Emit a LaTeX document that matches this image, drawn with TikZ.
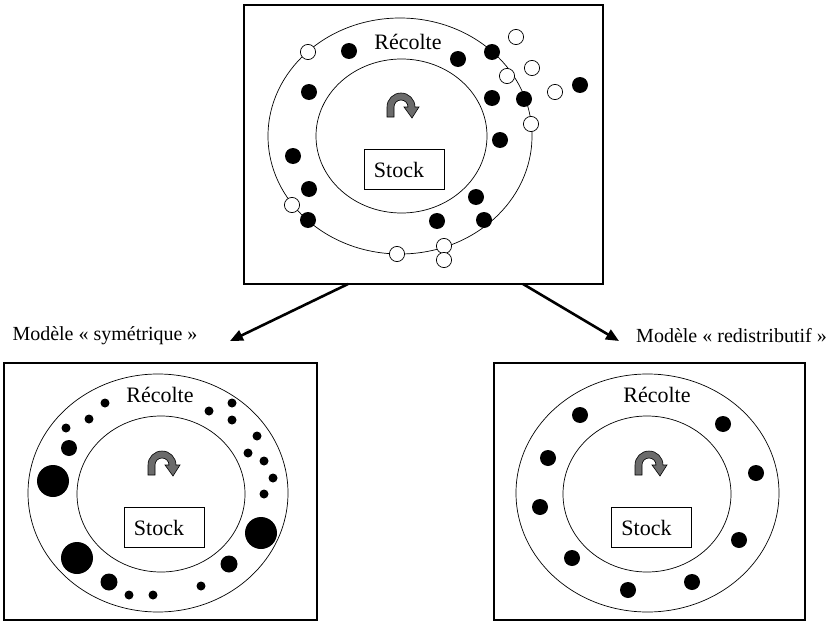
\documentclass[tikz,border=0pt]{standalone}
\usepackage{fontspec}
\setmainfont{Liberation Serif}
\usetikzlibrary{arrows.meta}
\tikzset{
  panel/.style={draw, line width=1.1pt, inner sep=0pt, minimum width=311pt, minimum height=257pt},
  ring/.style={draw, line width=0.7pt},
  stockbox/.style={draw, line width=0.7pt, inner sep=0pt, minimum width=80pt, minimum height=40pt},
  lbl/.style={inner sep=0pt, font=\fontsize{22}{24}\selectfont},
  captext/.style={inner sep=0pt, font=\fontsize{20}{22}\selectfont},
  conn/.style={line width=2.6pt, -{Triangle[length=13pt,width=11pt]}},
  fulldot/.style={fill=black},
  opendot/.style={draw, fill=white, line width=0.7pt},
  turn/.style={fill=black!58, draw=black, line width=0.6pt}
}
\newcommand{\turnarrow}[2]{%
  \begin{scope}[shift={(#1,#2)}, yscale=-1]
    \path[turn] (-16,-12) -- (-16,-2) arc[start angle=180, end angle=0, radius=14]
      -- (16,-2) -- (9,-13) -- (1,-2) -- (5,-2)
      arc[start angle=0, end angle=180, radius=7] -- (-9,-12) -- cycle;
  \end{scope}}
\begin{document}
\begin{tikzpicture}[x=1pt, y=-1pt]
\useasboundingbox (0,0) rectangle (831,621);
% panels
\node[panel, minimum width=359pt, minimum height=279pt] (top) at (423.5,144.5) {};
\node[panel, minimum width=313pt, minimum height=257pt] (left) at (160.5,491.5) {};
\node[panel, minimum width=311pt, minimum height=257pt] (right) at (649.5,491.5) {};
% top panel
\draw[ring] (400,136) circle[x radius=132, y radius=118];
\draw[ring] (401.5,136) circle[x radius=85.5, y radius=77];
\node[lbl] (r1) at (408,42) {Récolte};
\node[stockbox] (s1) at (404,169) {};
\node[lbl] (t1) at (399,170) {Stock};
\turnarrow{403}{105}
\foreach \x/\y in {349/51, 458/59, 492/52, 309/92, 492/98, 524/99, 500/140, 580/85,
  293/156, 309/189, 308/220, 476/197, 437/221, 484/220}
  \path[fulldot] (\x,\y) circle[radius=8];
\foreach \x/\y in {308/52, 516/37, 532/68, 507/76, 555/92, 531/124, 292/205, 397/254,
  444/246, 444/260}
  \path[opendot] (\x,\y) circle[radius=7.6];
% left panel
\draw[ring] (158,493) circle[x radius=130, y radius=119];
\draw[ring] (161,494) circle[x radius=84, y radius=78];
\node[lbl] (r2) at (160,395) {Récolte};
\node[stockbox] (s2) at (164,527) {};
\node[lbl] (t2) at (159,528) {Stock};
\turnarrow{164}{463}
\foreach \x/\y/\r in {105/403/4.5, 89/419/4.5, 66/428/4.5, 69/448/8, 53/481/16,
  77/558/16, 109/582/8.5, 129/595/4.5, 153/595/4.5, 201/586/4.5, 229/564/8.5,
  261/533/16, 264/494/4.5, 273/478/4.5, 264/461/4.5, 248/453/4.5, 257/436/4.5,
  232/420/4.5, 232/403/4.5, 209/411/4.5}
  \path[fulldot] (\x,\y) circle[radius=\r];
% right panel
\draw[ring] (647.5,493) circle[x radius=131.5, y radius=119];
\draw[ring] (647,494) circle[x radius=84, y radius=78];
\node[lbl] (r3) at (657,395) {Récolte};
\node[stockbox] (s3) at (651.5,527) {};
\node[lbl] (t3) at (646.5,528) {Stock};
\turnarrow{651}{463}
\foreach \x/\y in {580/415, 548/458, 540/507, 572/558, 628/590, 692/582, 739/540,
  756/473, 723/424}
  \path[fulldot] (\x,\y) circle[radius=8];
% captions and connectors
\node[captext] (c1) at (105,336) {Modèle « symétrique »};
\node[captext] (c2) at (731.5,336) {Modèle « redistributif »};
\coordinate (srcL) at (348,284);
\coordinate (srcR) at (523,284);
\coordinate (tipL) at (230,341);
\coordinate (tipR) at (619,341);
\draw[conn] (srcL) -- (tipL);
\draw[conn] (srcR) -- (tipR);
\end{tikzpicture}
\end{document}
